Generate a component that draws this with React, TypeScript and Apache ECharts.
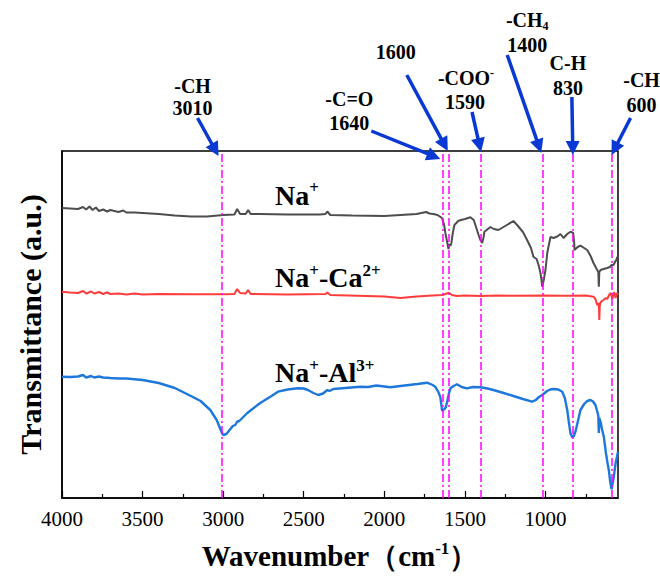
import React, { useEffect, useRef } from "react";
import * as echarts from "echarts";

// ---- Data ----
const xTickLabels = [4000, 3500, 3000, 2500, 2000, 1500, 1000];
const xMinorTicks = [3750, 3250, 2750, 2250, 1750, 1250, 750];

const seriesNames = ["Na+", "Na+-Ca2+", "Na+-Al3+"];

const naSpectrum: number[][] = [
  [4000, 290], [3950, 289.5], [3900, 289], [3870, 291], [3850, 288.5], [3830, 291.5], [3810, 288], [3790, 290.5],
  [3770, 287], [3745, 288.5], [3720, 286.5], [3700, 288], [3650, 286], [3620, 287.5], [3600, 285.5], [3550, 285.5],
  [3500, 285], [3400, 284], [3300, 282.5], [3200, 281.5], [3100, 281.5], [3000, 283], [2930, 283.5], [2913, 289],
  [2895, 284], [2860, 284], [2845, 288], [2830, 284], [2770, 284], [2600, 283.5], [2400, 283.5], [2365, 284],
  [2354, 286.5], [2335, 283], [2200, 282.5], [2000, 282], [1900, 283], [1800, 284], [1740, 286], [1720, 284.5],
  [1696, 284], [1670, 283], [1642, 280], [1630, 274], [1621, 265], [1610, 256], [1602, 249], [1595, 254],
  [1590, 252], [1584, 255], [1575, 265], [1565, 273], [1540, 277.3], [1500, 279], [1466, 280.7], [1445, 278],
  [1435, 273], [1415, 263], [1404, 258], [1393, 255], [1385, 260], [1379, 266.3], [1342, 271], [1320, 269],
  [1292, 268], [1250, 272], [1199, 277], [1176, 273], [1140, 266], [1114, 258], [1090, 250], [1075, 241.3],
  [1055, 239], [1043, 233], [1031, 225], [1025, 218], [1020, 211.3], [1012, 217], [1000, 228], [989, 245],
  [969, 261], [950, 260], [927, 261.5], [907, 264], [888, 260], [865, 264], [845, 266.3], [828, 265],
  [822, 256], [820, 248], [800, 251], [783, 252.3], [760, 250], [741, 248], [720, 242], [702, 235],
  [679, 228], [672, 226], [669, 211.3], [666, 226], [658, 228], [640, 229], [617, 230], [600, 231],
  [590, 233], [578, 233], [565, 237], [560, 238], [555, 241], [550, 240],
];

const naCaSpectrum: number[][] = [
  [4000, 206.3], [3950, 205.5], [3900, 205], [3870, 207], [3850, 204.5], [3820, 206.5], [3800, 204.5], [3770, 206],
  [3745, 204], [3720, 205.5], [3700, 204], [3650, 204.5], [3600, 203.5], [3550, 204.5], [3500, 203.5], [3400, 204],
  [3200, 203.7], [3000, 203.7], [2930, 204], [2913, 209], [2895, 205], [2860, 204.5], [2845, 208], [2830, 204],
  [2600, 203.5], [2365, 204], [2354, 205.5], [2335, 203], [2000, 201.5], [1900, 200], [1800, 201.5], [1700, 202.5],
  [1642, 203], [1620, 204], [1600, 205.3], [1580, 203], [1550, 202], [1500, 202.5], [1400, 202], [1300, 202.5],
  [1200, 202.3], [1000, 202.5], [900, 202.3], [828, 202.3], [750, 202.5], [702, 201.3], [690, 199], [679, 193],
  [672, 195], [668, 190], [666, 178], [663, 192], [660, 195], [650, 197], [640, 198], [625, 200],
  [617, 199], [605, 203], [595, 205], [585, 199], [575, 206], [565, 200], [558, 205], [550, 203],
];

const naAlSpectrum: number[][] = [
  [4000, 121.3], [3950, 121], [3900, 121.5], [3870, 123], [3850, 120.5], [3820, 122], [3800, 120.5], [3770, 121.5],
  [3745, 120.5], [3700, 120], [3650, 119.5], [3600, 119.5], [3500, 118], [3400, 115], [3300, 110], [3200, 102],
  [3140, 97], [3080, 88], [3040, 78], [3010, 66], [3000, 63], [2980, 64], [2960, 68], [2940, 72],
  [2925, 73], [2913, 76.3], [2900, 77], [2850, 85], [2770, 95], [2700, 102], [2660, 106.3], [2600, 108.5],
  [2536, 109.7], [2500, 109.5], [2474, 108], [2440, 105], [2410, 103], [2380, 104.5], [2354, 108], [2340, 107],
  [2316, 109], [2150, 111.3], [2100, 111], [2050, 112.5], [1963, 110.7], [1900, 112], [1795, 114], [1735, 115.3],
  [1700, 113], [1684, 111.3], [1665, 106], [1653, 101.3], [1645, 92], [1642, 87.3], [1632, 88.5], [1626, 89],
  [1618, 91], [1612, 95], [1600, 104], [1590, 109.7], [1570, 112], [1549, 113.7], [1520, 111], [1487, 109.7],
  [1450, 111], [1404, 110.7], [1360, 109.5], [1323, 108], [1260, 105], [1199, 102], [1140, 99], [1083, 96.3],
  [1060, 98], [1040, 101], [1020, 103], [990, 107], [970, 108.5], [950, 109], [920, 108.5], [896, 106.3],
  [880, 100], [865, 88], [855, 76], [845, 64.7], [834, 60.7], [824, 62], [814, 66.3], [800, 76],
  [783, 88], [760, 94], [741, 97], [721, 98], [705, 96.5], [690, 93], [678, 86], [672, 82],
  [669, 65], [666, 80], [658, 76], [648, 68], [638, 61.3], [625, 45], [615, 35], [607, 28],
  [598, 16], [590, 8.7], [584, 14], [576, 21.3], [565, 34.7], [558, 40], [550, 46.3],
];

const peakPositions = [3010, 1640, 1600, 1400, 1020, 830, 590];
const peakGroups = ["-CH", "-C=O", "", "-COO{sup|-}", "-CH{sub|4}", "C-H", "-CH"];
const peakNumbers = ["3010", "1640", "1600", "1590", "1400", "830", "600"];

// ---- Layout (pixel offsets relative to peak line top) ----
const arrowLayout = [
  { tip: [-3, 5], tail: [-24, -33], group: [-29, -65], num: [-29, -43] },
  { tip: [-2, 8], tail: [-71, -20], group: [-93, -52], num: [-93, -28] },
  { tip: [-1, 0], tail: [-42, -76], group: [0, 0], num: [-53, -99] },
  { tip: [0, 1], tail: [-9, -39], group: [-15, -73], num: [-16, -49] },
  { tip: [-1, 2], tail: [-35, -96], group: [-15, -131], num: [-15, -106] },
  { tip: [0, 4], tail: [-1, -54], group: [-5, -88], num: [-5, -63] },
  { tip: [0, 4], tail: [19, -33], group: [30, -71], num: [30, -46] },
];
const seriesLabelText = ["Na{s|+}", "Na{s|+}-Ca{s|2+}", "Na{s|+}-Al{s|3+}"];
const seriesLabelPos = [[275, 195], [275, 277.5], [275, 372.5]];

const SERIF = '"Liberation Serif", "Times New Roman", serif';
const GRID = { left: 62, right: 42, top: 151, bottom: 85 };
const ARROW_COLOR = "#0a38d2";

export default function App() {
  const ref = useRef<HTMLDivElement>(null);

  useEffect(() => {
    if (!ref.current) return;
    const chart = echarts.init(ref.current, undefined, { renderer: "svg" });
    const colors = ["#4d4d4d", "#ff3c3c", "#1e78dc"];
    const spectra = [naSpectrum, naCaSpectrum, naAlSpectrum];

    const option: any = {
      animation: false,
      backgroundColor: "#fff",
      grid: {
        ...GRID,
        show: true,
        borderColor: "#000",
        borderWidth: 1.5,
        backgroundColor: "transparent",
        outerBoundsMode: "none",
      },
      xAxis: [
        {
          type: "value",
          position: "bottom",
          inverse: true,
          min: 550,
          max: 4000,
          name: "Wavenumber（cm{s|-1}）",
          nameLocation: "middle",
          nameGap: 42,
          nameTextStyle: {
            fontFamily: SERIF,
            fontWeight: "bold",
            fontSize: 29,
            color: "#000",
            lineHeight: 32,
            rich: {
              s: { fontFamily: SERIF, fontWeight: "bold", fontSize: 17, color: "#000", verticalAlign: "top", lineHeight: 16 },
            },
          },
          axisLine: { show: true, onZero: false, lineStyle: { color: "#000", width: 1.5 } },
          axisTick: { show: true, inside: true, length: 7, customValues: xTickLabels, lineStyle: { color: "#000", width: 1.2 } },
          axisLabel: {
            customValues: xTickLabels,
            formatter: (v: number) => String(v),
            fontFamily: SERIF,
            fontSize: 21,
            color: "#000",
            margin: 10,
          },
          splitLine: { show: false },
        },
        {
          type: "value",
          position: "bottom",
          inverse: true,
          min: 550,
          max: 4000,
          axisLine: { show: false, onZero: false },
          axisTick: { show: true, inside: true, length: 4, customValues: xMinorTicks, lineStyle: { color: "#000", width: 1.2 } },
          axisLabel: { show: false },
          splitLine: { show: false },
        },
      ],
      yAxis: {
        type: "value",
        min: 0,
        max: 347,
        name: "Transmittance (a.u.)",
        nameLocation: "middle",
        nameRotate: 90,
        nameGap: 17,
        nameTextStyle: { fontFamily: SERIF, fontWeight: "bold", fontSize: 30, color: "#000" },
        axisLine: { show: true, onZero: false, lineStyle: { color: "#000", width: 1.5 } },
        axisTick: { show: false },
        axisLabel: { show: false },
        splitLine: { show: false },
      },
      series: spectra.map((d, i) => ({
        name: seriesNames[i],
        type: "line",
        xAxisIndex: 0,
        data: d,
        showSymbol: false,
        symbol: "none",
        silent: true,
        lineStyle: { color: colors[i], width: i === 2 ? 2.4 : 2 },
        z: 2,
        ...(i === 2
          ? {
              markLine: {
                silent: true,
                symbol: ["none", "none"],
                label: { show: false },
                lineStyle: { color: "#ff00ff", width: 1.5, type: [8, 3, 2, 3] },
                emphasis: { disabled: true },
                data: peakPositions.map((v) => ({ xAxis: v })),
              },
            }
          : {}),
      })),
    };
    chart.setOption(option);

    const top = GRID.top;
    const graphics: any[] = [];
    const textBase = {
      fontFamily: SERIF,
      fontWeight: "bold",
      fill: "#000",
    };
    peakPositions.forEach((v, i) => {
      const lx = chart.convertToPixel({ xAxisIndex: 0 }, v) as number;
      const L = arrowLayout[i];
      const tip = [lx + L.tip[0], top + L.tip[1]];
      const tail = [lx + L.tail[0], top + L.tail[1]];
      const dx = tip[0] - tail[0];
      const dy = tip[1] - tail[1];
      const len = Math.sqrt(dx * dx + dy * dy);
      const ux = dx / len;
      const uy = dy / len;
      const headLen = 14;
      const halfW = 7;
      const base = [tip[0] - ux * headLen, tip[1] - uy * headLen];
      graphics.push({
        type: "line",
        shape: { x1: tail[0], y1: tail[1], x2: base[0] + ux * 2, y2: base[1] + uy * 2 },
        style: { stroke: ARROW_COLOR, lineWidth: 3.5 },
        silent: true,
        z: 10,
      });
      graphics.push({
        type: "polygon",
        shape: {
          points: [
            tip,
            [base[0] - uy * halfW, base[1] + ux * halfW],
            [base[0] + uy * halfW, base[1] - ux * halfW],
          ],
        },
        style: { fill: ARROW_COLOR },
        silent: true,
        z: 10,
      });
      const rich = {
        sup: { ...textBase, fontSize: 12, verticalAlign: "top", lineHeight: 10 },
        sub: { ...textBase, fontSize: 12, verticalAlign: "bottom", lineHeight: 8 },
      };
      if (peakGroups[i]) {
        graphics.push({
          type: "text",
          x: lx + L.group[0],
          y: top + L.group[1],
          silent: true,
          z: 10,
          style: {
            ...textBase,
            text: peakGroups[i],
            fontSize: 20,
            lineHeight: 23,
            align: "center",
            verticalAlign: "middle",
            textAlign: "center",
            textVerticalAlign: "middle",
            rich,
          },
        });
      }
      graphics.push({
        type: "text",
        x: lx + L.num[0],
        y: top + L.num[1],
        silent: true,
        z: 10,
        style: {
          ...textBase,
          text: peakNumbers[i],
          fontSize: 20,
          align: "center",
          verticalAlign: "middle",
          textAlign: "center",
          textVerticalAlign: "middle",
        },
      });
    });

    seriesLabelText.forEach((t, i) => {
      graphics.push({
        type: "text",
        x: seriesLabelPos[i][0],
        y: seriesLabelPos[i][1],
        silent: true,
        z: 10,
        style: {
          ...textBase,
          text: t,
          fontSize: 28,
          lineHeight: 32,
          align: "left",
          verticalAlign: "middle",
          textAlign: "left",
          textVerticalAlign: "middle",
          rich: {
            s: { ...textBase, fontSize: 17, verticalAlign: "top", lineHeight: 16 },
          },
        },
      });
    });

    chart.setOption({ graphic: graphics });

    return () => {
      chart.dispose();
    };
  }, []);

  return (
    <div
      ref={ref}
      style={{ position: "absolute", left: 0, top: 0, width: 660, height: 583, background: "#fff" }}
    />
  );
}
